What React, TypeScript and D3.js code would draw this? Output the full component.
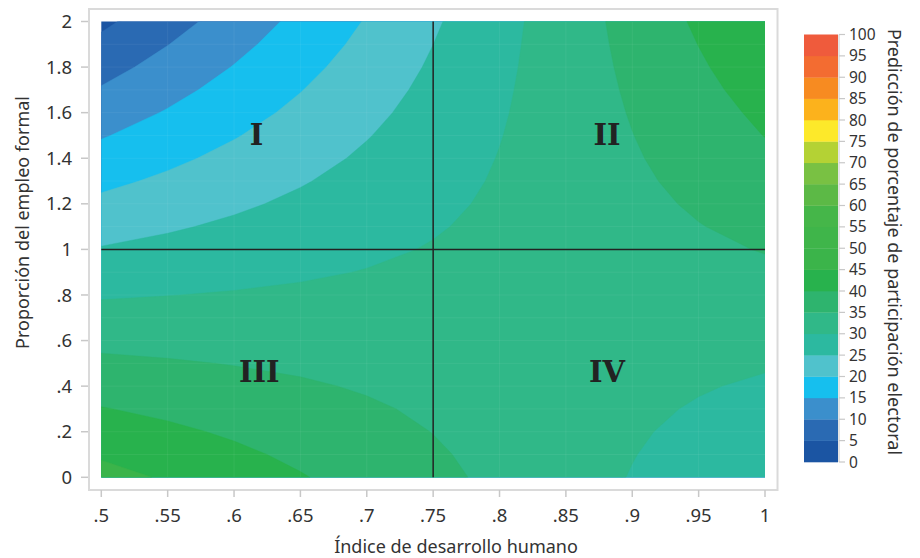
import React from "react";
import * as d3 from "d3";

// Grid of predicted values: x = Índice de desarrollo humano, y = Proporción del empleo formal
const xValues = [0.5, 0.55, 0.6, 0.65, 0.7, 0.75, 0.8, 0.85, 0.9, 0.95, 1];
const yValues = [0, 0.1, 0.2, 0.3, 0.4, 0.5, 0.6, 0.7, 0.8, 0.9, 1, 1.1, 1.2, 1.3, 1.4, 1.5, 1.6, 1.7, 1.8, 1.9, 2];
// one row per y value (bottom to top), 11 values per row (x from .5 to 1)
const predRows: number[][] = [
  [46.6, 44.5, 42.4, 40.3, 38.2, 36.1, 34.0, 31.9, 29.8, 27.7, 25.6],
  [44.47, 42.68, 40.89, 39.1, 37.31, 35.52, 33.72, 31.93, 30.14, 28.35, 26.56],
  [42.34, 40.86, 39.38, 37.89, 36.41, 34.93, 33.45, 31.97, 30.48, 29.0, 27.52],
  [40.21, 39.04, 37.86, 36.69, 35.52, 34.35, 33.17, 32.0, 30.83, 29.65, 28.48],
  [38.08, 37.22, 36.35, 35.49, 34.62, 33.76, 32.9, 32.03, 31.17, 30.3, 29.44],
  [35.95, 35.4, 34.84, 34.29, 33.73, 33.18, 32.62, 32.07, 31.51, 30.96, 30.4],
  [33.82, 33.57, 33.33, 33.08, 32.84, 32.59, 32.34, 32.1, 31.85, 31.61, 31.36],
  [31.69, 31.75, 31.82, 31.88, 31.94, 32.01, 32.07, 32.13, 32.19, 32.26, 32.32],
  [29.56, 29.93, 30.3, 30.68, 31.05, 31.42, 31.79, 32.16, 32.54, 32.91, 33.28],
  [27.43, 28.11, 28.79, 29.47, 30.15, 30.84, 31.52, 32.2, 32.88, 33.56, 34.24],
  [25.3, 26.29, 27.28, 28.27, 29.26, 30.25, 31.24, 32.23, 33.22, 34.21, 35.2],
  [23.17, 24.47, 25.77, 27.07, 28.37, 29.67, 30.96, 32.26, 33.56, 34.86, 36.16],
  [21.04, 22.65, 24.26, 25.86, 27.47, 29.08, 30.69, 32.3, 33.9, 35.51, 37.12],
  [18.91, 20.83, 22.74, 24.66, 26.58, 28.5, 30.41, 32.33, 34.25, 36.16, 38.08],
  [16.78, 19.01, 21.23, 23.46, 25.68, 27.91, 30.14, 32.36, 34.59, 36.81, 39.04],
  [14.65, 17.19, 19.72, 22.26, 24.79, 27.33, 29.86, 32.4, 34.93, 37.47, 40.1],
  [12.52, 15.36, 18.21, 21.05, 23.9, 26.74, 29.58, 32.43, 35.27, 38.12, 40.96],
  [10.39, 13.54, 16.7, 19.85, 23.0, 26.16, 29.31, 32.46, 35.61, 38.77, 41.92],
  [8.26, 11.72, 15.18, 18.65, 22.11, 25.57, 29.03, 32.49, 35.96, 39.42, 42.88],
  [6.13, 9.9, 13.67, 17.44, 21.21, 24.99, 28.76, 32.53, 36.3, 40.07, 43.84],
  [4.0, 8.08, 12.16, 16.24, 20.32, 24.4, 28.48, 32.56, 36.64, 40.72, 44.8],
];

const bandBreaks = [0, 5, 10, 15, 20, 25, 30, 35, 40, 45, 50, 55, 60, 65, 70, 75, 80, 85, 90, 95, 100];
const bandColors = [
  "#1b55a3", "#2a6ab3", "#3b8fcc", "#16bfee", "#50c2cc",
  "#2cb9a0", "#30b888", "#2eb46e", "#28b24d", "#3bb44a",
  "#3fb54a", "#45b649", "#5cb946", "#79c143", "#b4d234",
  "#fde92a", "#fcb21c", "#f78b21", "#f36c31", "#ef5b3c",
];

const xTicks = [0.5, 0.55, 0.6, 0.65, 0.7, 0.75, 0.8, 0.85, 0.9, 0.95, 1];
const xTickLabels = [".5", ".55", ".6", ".65", ".7", ".75", ".8", ".85", ".9", ".95", "1"];
const yTicks = [0, 0.2, 0.4, 0.6, 0.8, 1, 1.2, 1.4, 1.6, 1.8, 2];
const yTickLabels = ["0", ".2", ".4", ".6", ".8", "1", "1.2", "1.4", "1.6", "1.8", "2"];

const quadrantLabels = ["I", "II", "III", "IV"];
const quadrantX = [0.617, 0.881, 0.619, 0.881];
const quadrantY = [1.5, 1.5, 0.462, 0.462];
const refX = 0.75;
const refY = 1;

const xTitle = "Índice de desarrollo humano";
const yTitle = "Proporción del empleo formal";
const cbTitle = "Predicción de porcentaje de participación electoral";

const W = 920;
const H = 558;
const FONT = "'Noto Sans', Roboto, sans-serif";
const TEXT = "#333333";
const AXIS = "#c8c8c8";

export default function App() {
  const xScale = d3.scaleLinear().domain([0.5, 1]).range([101.3, 765]);
  const yScale = d3.scaleLinear().domain([0, 2]).range([477.3, 21.5]);
  const cbScale = d3.scaleLinear().domain([0, 100]).range([462, 34.5]);

  const nx = xValues.length;
  const ny = yValues.length;
  const flat = predRows.flat();
  const gxs = d3.scaleLinear().domain([0.5, nx - 0.5]).range([xScale(xValues[0]), xScale(xValues[nx - 1])]);
  const gys = d3.scaleLinear().domain([0.5, ny - 0.5]).range([yScale(yValues[0]), yScale(yValues[ny - 1])]);
  const contours = d3.contours().size([nx, ny]).thresholds(bandBreaks.slice(0, -1))(flat);

  const toPath = (mp: any) =>
    mp.coordinates
      .map((poly: number[][][]) =>
        poly
          .map((ring) => "M" + ring.map(([a, b]) => `${gxs(a).toFixed(2)},${gys(b).toFixed(2)}`).join("L") + "Z")
          .join("")
      )
      .join("");

  const x0 = xScale(0.5), x1 = xScale(1), y0 = yScale(0), y1 = yScale(2);
  const colorFor = (v: number) => bandColors[bandBreaks.indexOf(v)];

  const cbLeft = 804, cbRight = 838;

  return (
    <svg width={W} height={H} style={{ position: "absolute", left: 0, top: 0, background: "#fff" }} fontFamily={FONT}>
      <defs>
        <clipPath id="plotclip">
          <rect x={x0} y={y1} width={x1 - x0} height={y0 - y1} />
        </clipPath>
      </defs>
      <rect x={89} y={9} width={688.5} height={481} fill="#fff" stroke="#dadada" strokeWidth={2} />
      <g clipPath="url(#plotclip)">
        {contours.map((c: any, i: number) => (
          <path key={i} d={toPath(c)} fill={colorFor(c.value)} stroke={colorFor(c.value)} strokeWidth={0.4} />
        ))}
        {xValues.slice(1, -1).map((v, i) => (
          <line key={"gx" + i} x1={xScale(v)} x2={xScale(v)} y1={y1} y2={y0} stroke="#fff" strokeOpacity={0.06} />
        ))}
        {yValues.slice(1, -1).map((v, i) => (
          <line key={"gy" + i} x1={x0} x2={x1} y1={yScale(v)} y2={yScale(v)} stroke="#fff" strokeOpacity={0.06} />
        ))}
      </g>
      {/* reference lines */}
      <line x1={xScale(refX)} x2={xScale(refX)} y1={y1} y2={y0} stroke="#222" strokeWidth={1.5} />
      <line x1={x0} x2={x1} y1={yScale(refY)} y2={yScale(refY)} stroke="#222" strokeWidth={1.5} />
      {/* quadrant labels */}
      {quadrantLabels.map((t, i) => (
        <text key={t} x={xScale(quadrantX[i])} y={yScale(quadrantY[i])} textAnchor="middle" dominantBaseline="central"
          fontFamily="'DejaVu Serif', serif" fontWeight="bold" fontSize={29} fill="#222">{t}</text>
      ))}
      {/* y axis */}
      {yTicks.map((v, i) => (
        <g key={"yt" + i}>
          <line x1={81} x2={88} y1={yScale(v)} y2={yScale(v)} stroke={AXIS} strokeWidth={1.5} />
          <text x={72} y={yScale(v)} dy="0.36em" textAnchor="end" fontSize={18.5} fill={TEXT}>{yTickLabels[i]}</text>
        </g>
      ))}
      {/* x axis */}
      {xTicks.map((v, i) => (
        <g key={"xt" + i}>
          <line x1={xScale(v)} x2={xScale(v)} y1={490} y2={497} stroke={AXIS} strokeWidth={1.5} />
          <text x={xScale(v)} y={521.5} textAnchor="middle" fontSize={18.5} fill={TEXT}>{xTickLabels[i]}</text>
        </g>
      ))}
      <text x={456} y={553} textAnchor="middle" fontSize={18} fill={TEXT}>{xTitle}</text>
      <text transform="translate(28.5,222.5) rotate(-90)" textAnchor="middle" fontSize={18} fill={TEXT}>{yTitle}</text>
      {/* colorbar */}
      {bandColors.map((c, i) => (
        <rect key={"cb" + i} x={cbLeft} width={cbRight - cbLeft} y={cbScale(bandBreaks[i + 1])}
          height={cbScale(bandBreaks[i]) - cbScale(bandBreaks[i + 1]) + 0.3} fill={c} />
      ))}
      <line x1={cbRight + 1} x2={cbRight + 1} y1={cbScale(100)} y2={cbScale(0)} stroke={AXIS} strokeWidth={1} />
      {bandBreaks.map((v) => (
        <g key={"cbt" + v}>
          <line x1={cbRight + 1} x2={cbRight + 7} y1={cbScale(v)} y2={cbScale(v)} stroke={AXIS} strokeWidth={1.2} />
          <text x={cbRight + 11} y={cbScale(v)} dy="0.36em" fontSize={15.5} fill={TEXT}>{v}</text>
        </g>
      ))}
      <text transform="translate(888,242) rotate(90)" textAnchor="middle" fontSize={18} fill={TEXT}>{cbTitle}</text>
    </svg>
  );
}
